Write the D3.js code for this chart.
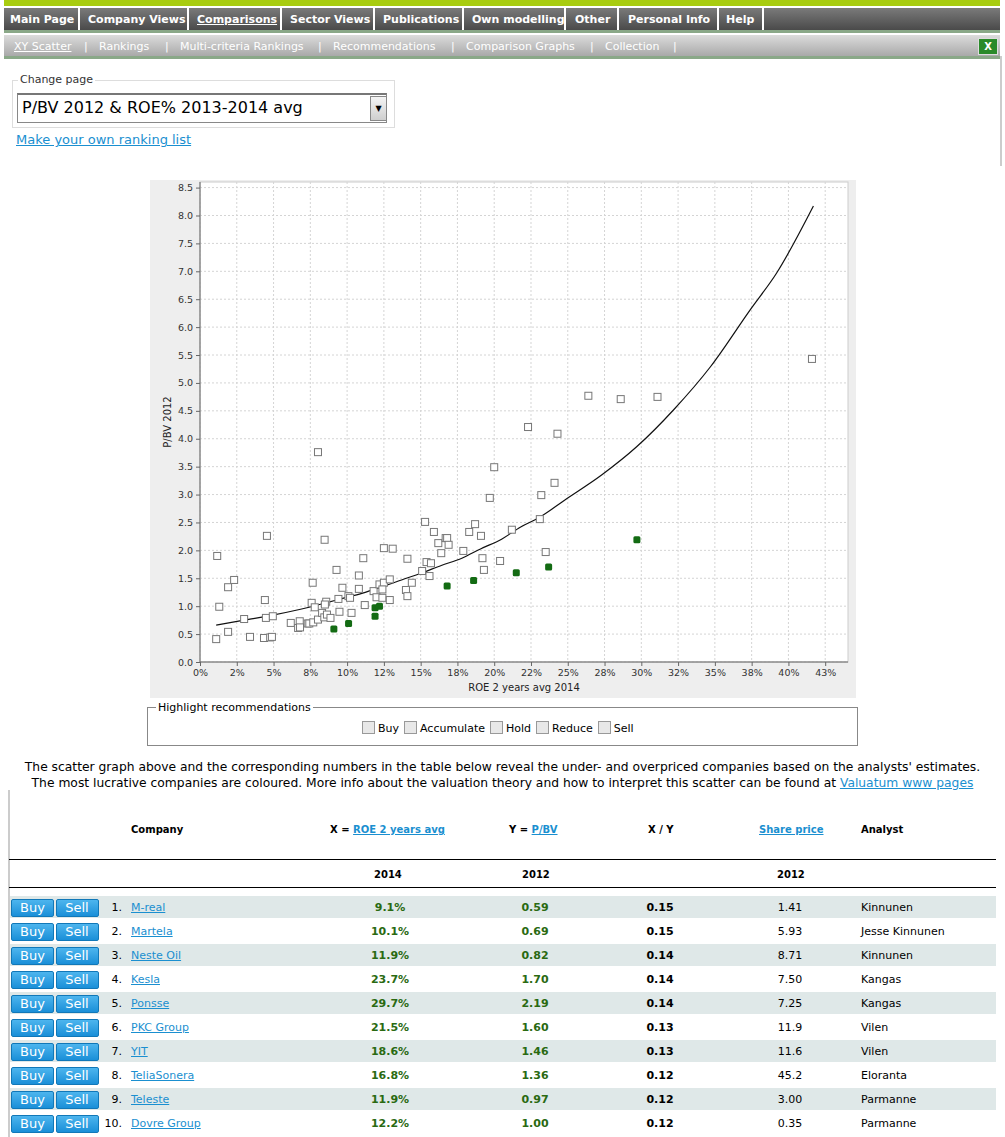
<!DOCTYPE html>
<html><head><meta charset="utf-8">
<script src="https://cdn.jsdelivr.net/npm/d3@7"></script>
<style>
body{margin:0;font-family:"DejaVu Sans",Verdana,sans-serif;background:#fff;width:1005px;height:1137px;overflow:hidden;position:relative}
.abs{position:absolute}
a{color:#1a8fd0}
.nav1{position:absolute;top:8px;height:22px;left:4px;width:996px;background:linear-gradient(#7a7a7a,#4a4a4a);border-bottom:3px solid #8aa888}
.nav1 span{position:absolute;top:5px;color:#fff;font-weight:bold;font-size:11px}
.nav1 i{position:absolute;top:0;width:2px;height:22px;background:#fff}
.nav2{position:absolute;top:35px;height:21px;left:4px;width:996px;background:linear-gradient(#dcdcdc,#a9a9a9);border-bottom:3px solid #8aa888}
.nav2 span{position:absolute;top:5px;color:#fff;font-size:11px}
.btn{display:inline-block;width:41px;height:16px;background:linear-gradient(#4db5ee,#1a8fd8);border:1px solid #1178b8;border-radius:2px;color:#fff;font-size:13px;text-align:center;line-height:16px;font-family:"DejaVu Sans",sans-serif}
.row{position:absolute;left:10px;width:986px;height:22px}
.row div{position:absolute;top:5px;font-size:11px}
.g{color:#2a6a12;font-weight:bold}
.b{font-weight:bold}
</style></head><body>
<div class="abs" style="left:4px;top:0;width:996px;height:6px;background:#a8cc10"></div>
<div class="nav1" id="n1"></div>
<div class="nav2" id="n2"></div>
<div class="abs" style="left:1000px;top:56px;width:2px;height:110px;background:#ccc"></div>
<div class="abs" style="left:978px;top:38px;width:18px;height:15px;background:#2a8a2a;border:1px solid #ddd;color:#fff;font-size:10px;font-weight:bold;text-align:center;line-height:15px">X</div>
<div class="abs" style="left:12px;top:80px;width:381px;height:46px;border:1px solid #ddd"></div>
<div class="abs" style="left:18px;top:73px;background:#fff;padding:0 2px;font-size:11px;color:#333">Change page</div>
<div class="abs" style="left:17px;top:93px;width:368px;height:27px;border:1px solid #888;border-top:2px solid #777;background:#fff"></div>
<div class="abs" style="left:22px;top:98px;font-size:16px;color:#000">P/BV 2012 &amp; ROE% 2013-2014 avg</div>
<div class="abs" style="left:370px;top:96px;width:15px;height:23px;background:linear-gradient(#f4f4f4,#cfcfcf);border:1px solid #888;font-size:8px;text-align:center;line-height:23px">▼</div>
<div class="abs" style="left:16px;top:132px;font-size:13px"><a href="#">Make your own ranking list</a></div>

<svg class="abs" id="chart" style="left:0;top:0" width="1005" height="700"></svg>

<div class="abs" style="left:147px;top:707px;width:709px;height:37px;border:1px solid #888"></div>
<div class="abs" style="left:156px;top:701px;background:#fff;padding:0 2px;font-size:11px">Highlight recommendations</div>
<div class="abs" id="cbs" style="left:362px;top:721px;font-size:11px;white-space:nowrap"></div>

<div class="abs" style="left:0;top:759px;width:1005px;text-align:center;font-size:12.3px;line-height:16px;color:#000">The scatter graph above and the corresponding numbers in the table below reveal the under- and overpriced companies based on the analysts' estimates.<br>The most lucrative companies are coloured. More info about the valuation theory and how to interpret this scatter can be found at <a href="#">Valuatum www pages</a></div>

<div class="abs" style="left:8px;top:790px;width:2px;height:347px;background:#ccc"></div>
<div class="abs b" style="left:131px;top:824px;font-size:10px">Company</div>
<div class="abs b" style="left:330px;top:824px;font-size:10px">X = <a href="#">ROE 2 years avg</a></div>
<div class="abs b" style="left:509px;top:824px;font-size:10px">Y = <a href="#">P/BV</a></div>
<div class="abs b" style="left:648px;top:824px;font-size:10px">X / Y</div>
<div class="abs b" style="left:759px;top:824px;font-size:10px"><a href="#">Share price</a></div>
<div class="abs b" style="left:861px;top:824px;font-size:10px">Analyst</div>
<div class="abs" style="left:9px;top:859px;width:987px;height:1px;background:#000"></div>
<div class="abs b" style="left:374px;top:869px;font-size:10px">2014</div>
<div class="abs b" style="left:522px;top:869px;font-size:10px">2012</div>
<div class="abs b" style="left:777px;top:869px;font-size:10px">2012</div>
<div class="abs" style="left:9px;top:887px;width:987px;height:1px;background:#000"></div>
<div id="rows"></div>

<script>
const navItems=["Main Page","Company Views","Comparisons","Sector Views","Publications","Own modelling","Other","Personal Info","Help"];
const navX=[10,88,197,290,383,472,575,628,726];
const navSep=[78,187,280,373,462,564,617,717,762];
const subItems=["XY Scatter","Rankings","Multi-criteria Rankings","Recommendations","Comparison Graphs","Collection"];
const subX=[14,99,180,333,466,605];
const subSep=[84,165,318,451,590,673];

// gray (non-highlighted) points: [ROE %, P/BV]
const grayPts=[[1.17,1.90],[1.31,0.99],[1.91,1.34],[2.32,1.47],[1.10,0.41],[1.91,0.54],[3.0,0.77],[3.4,0.45],[4.35,0.43],[4.77,0.44],[4.89,0.45],[4.41,1.11],[4.48,0.79],[4.95,0.82],[4.55,2.26],[6.17,0.70],[6.78,0.73],[6.67,0.61],[6.8,0.62],[7.32,0.69],[7.43,0.69],[7.7,0.71],[8.02,0.76],[7.59,1.06],[7.8,0.98],[7.66,1.42],[8.02,3.76],[8.3,0.88],[8.47,2.19],[8.45,0.80],[8.63,0.85],[8.87,0.79],[8.58,1.08],[8.49,1.03],[9.28,1.65],[9.41,1.13],[9.48,0.90],[9.68,1.33],[10.09,1.18],[10.2,1.15],[10.3,0.88],[10.8,1.55],[10.8,1.31],[11.1,1.86],[11.2,1.02],[11.8,1.27],[12.0,1.16],[12.2,1.39],[12.5,1.42],[12.4,1.30],[12.4,1.15],[12.5,2.04],[12.9,1.48],[12.9,1.11],[13.1,2.03],[14.1,1.85],[14.0,1.29],[14.1,1.18],[14.4,1.42],[15.1,1.63],[15.3,2.51],[15.4,1.79],[15.7,1.77],[15.6,1.54],[15.9,2.33],[16.2,2.13],[16.4,1.95],[16.7,2.22],[16.8,2.22],[16.9,2.10],[17.9,1.99],[18.3,2.33],[18.7,2.47],[19.1,2.26],[19.2,1.86],[19.3,1.65],[19.7,2.94],[20.0,3.49],[20.4,1.81],[21.2,2.37],[22.3,4.21],[23.1,2.56],[23.2,2.99],[23.5,1.97],[24.1,3.21],[24.3,4.09],[26.4,4.77],[28.6,4.71],[31.1,4.75],[41.6,5.43]];
// curve (fair value line)
const curvePts=[[1.1,0.66],[3.0,0.75],[4.95,0.84],[6.76,0.94],[8.56,1.06],[9.7,1.14],[11.0,1.23],[12.4,1.35],[13.7,1.47],[15.1,1.60],[16.4,1.73],[17.8,1.86],[19.1,2.03],[20.5,2.20],[21.8,2.42],[23.0,2.58],[24.9,2.92],[27.3,3.35],[29.7,3.86],[32.2,4.52],[34.7,5.29],[37.4,6.31],[39.2,6.97],[41.7,8.17]];
const companies=["M-real","Martela","Neste Oil","Kesla","Ponsse","PKC Group","YIT","TeliaSonera","Teleste","Dovre Group"];
const roe=[9.1,10.1,11.9,23.7,29.7,21.5,18.6,16.8,11.9,12.2];
const pbv=[0.59,0.69,0.82,1.70,2.19,1.60,1.46,1.36,0.97,1.00];
const xy=["0.15","0.15","0.14","0.14","0.14","0.13","0.13","0.12","0.12","0.12"];
const price=["1.41","5.93","8.71","7.50","7.25","11.9","11.6","45.2","3.00","0.35"];
const analyst=["Kinnunen","Jesse Kinnunen","Kinnunen","Kangas","Kangas","Vilen","Vilen","Eloranta","Parmanne","Parmanne"];
const xTicks=[0,2.5,5,7.5,10,12.5,15,17.5,20,22.5,25,27.5,30,32.5,35,37.5,40,42.5];
const xTickLabels=["0%","2%","5%","8%","10%","12%","15%","18%","20%","22%","25%","28%","30%","32%","35%","38%","40%","43%"];
const yTicks=d3.range(0,8.51,0.5);
const recs=["Buy","Accumulate","Hold","Reduce","Sell"];

const n1=d3.select("#n1"), n2=d3.select("#n2");
navItems.forEach((t,i)=>{n1.append("span").style("left",(navX[i]-4)+"px").style("text-decoration",i==2?"underline":"none").text(t);
 n1.append("i").style("left",(navSep[i]-4)+"px");});
subItems.forEach((t,i)=>{n2.append("span").style("left",(subX[i]-4)+"px").style("text-decoration",i==0?"underline":"none").text(t);
 n2.append("span").style("left",(subSep[i]-4)+"px").text("|");});

const svg=d3.select("#chart");
svg.append("rect").attr("x",150).attr("y",180).attr("width",706).attr("height",518).attr("fill","#eeeeee");
const L=200,R=848,T=182,B=662;
svg.append("rect").attr("x",L).attr("y",T).attr("width",R-L).attr("height",B-T).attr("fill","#fff").attr("stroke","#ccc");
const x=d3.scaleLinear().domain([0,44.05]).range([L,R]);
const y=d3.scaleLinear().domain([0,8.6]).range([B,T]);
svg.append("g").selectAll("line").data(xTicks).join("line").attr("x1",x).attr("x2",x).attr("y1",T).attr("y2",B).attr("stroke","#d4d4d4").attr("stroke-dasharray","2,2");
svg.append("g").selectAll("line").data(yTicks).join("line").attr("y1",y).attr("y2",y).attr("x1",L).attr("x2",R).attr("stroke","#d4d4d4").attr("stroke-dasharray","2,2");
const xa=svg.append("g").attr("transform",`translate(0,${B})`).call(d3.axisBottom(x).tickValues(xTicks).tickFormat((d,i)=>xTickLabels[i]).tickSize(4).tickSizeOuter(0));
const ya=svg.append("g").attr("transform",`translate(${L},0)`).call(d3.axisLeft(y).tickValues(yTicks).tickFormat(d3.format(".1f")).tickSize(4).tickSizeOuter(0));
[xa,ya].forEach(a=>{a.selectAll("text").attr("font-family","DejaVu Sans").attr("font-size",9.5).attr("fill","#333");a.selectAll("line,path").attr("stroke","#666");});
ya.select(".domain").attr("d",`M0,${B}V${T}`);
xa.select(".domain").attr("d",`M${L},0H${R}`);
svg.append("text").attr("x",524).attr("y",691).attr("text-anchor","middle").attr("font-size",10).attr("font-family","DejaVu Sans").attr("fill","#222").text("ROE 2 years avg 2014");
svg.append("text").attr("transform","translate(171,422) rotate(-90)").attr("text-anchor","middle").attr("font-size",10).attr("font-family","DejaVu Sans").attr("fill","#222").text("P/BV 2012");
svg.append("path").datum(curvePts).attr("d",d3.line().x(d=>x(d[0])).y(d=>y(d[1])).curve(d3.curveMonotoneX)).attr("fill","none").attr("stroke","#111").attr("stroke-width",1.2);
svg.append("g").selectAll("rect").data(grayPts).join("rect").attr("x",d=>x(d[0])-3.5).attr("y",d=>y(d[1])-3.5).attr("width",7).attr("height",7).attr("fill","#fff").attr("stroke","#777");
svg.append("g").selectAll("rect").data(roe).join("rect").attr("x",(d,i)=>x(d)-3.5).attr("y",(d,i)=>y(pbv[i])-3.5).attr("width",7).attr("height",7).attr("rx",1.5).attr("fill","#136b13");

const cb=d3.select("#cbs");
recs.forEach(r=>{cb.append("span").style("display","inline-block").style("width","11px").style("height","11px").style("border","1px solid #999").style("background","#e8e8e8").style("vertical-align","-2px").style("margin","0 3px 0 0");
 cb.append("span").style("margin-right","5px").text(r);});

const rows=d3.select("#rows");
companies.forEach((c,i)=>{
 const r=rows.append("div").attr("class","row").style("top",(896+i*24)+"px").style("background",i%2==0?"#dfe8e8":"#fff");
 r.append("div").style("left","1px").style("top","3px").html('<span class="btn">Buy</span> <span class="btn" style="margin-left:-2px">Sell</span>');
 r.append("div").style("left","92px").style("width","20px").style("text-align","right").text((i+1)+".");
 r.append("div").style("left","121px").html(`<a href="#">${c}</a>`);
 r.append("div").attr("class","g").style("left","330px").style("width","100px").style("text-align","center").text(roe[i].toFixed(1)+"%");
 r.append("div").attr("class","g").style("left","475px").style("width","100px").style("text-align","center").text(pbv[i].toFixed(2));
 r.append("div").attr("class","b").style("left","600px").style("width","100px").style("text-align","center").text(xy[i]);
 r.append("div").style("left","730px").style("width","100px").style("text-align","center").text(price[i]);
 r.append("div").style("left","851px").text(analyst[i]);
});
</script>
</body></html>
